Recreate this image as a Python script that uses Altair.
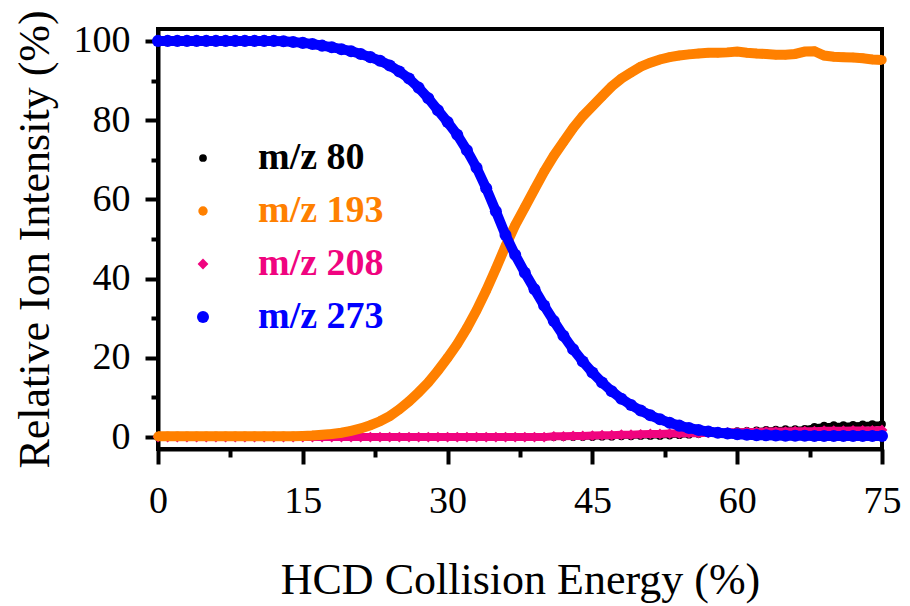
import altair as alt
import pandas as pd

energy = list(range(0, 76))

mz80 = [0.0] * 46 + [0.1, 0.1, 0.2, 0.2, 0.3, 0.3, 0.3, 0.4, 0.5, 0.6,
                     0.8, 1.0, 1.2, 1.3, 1.5, 1.6, 1.7, 1.8, 1.9, 2.0,
                     2.0, 2.1, 2.6, 2.9, 3.0, 3.0, 3.1, 3.2, 3.3, 3.3]

mz193 = [0.2, 0.2, 0.2, 0.2, 0.2, 0.2, 0.2, 0.2, 0.2, 0.2,
         0.2, 0.2, 0.2, 0.2, 0.2, 0.3, 0.4, 0.6, 0.8, 1.1,
         1.6, 2.2, 3.0, 4.0, 5.3, 7.0, 9.0, 11.3, 13.8, 16.8,
         20.0, 23.5, 27.5, 32.0, 37.0, 42.5, 48.2, 53.5, 58.0, 62.5,
         67.0, 71.0, 74.5, 78.0, 81.0, 83.5, 86.0, 88.5, 90.5, 92.0,
         93.5, 94.5, 95.3, 95.9, 96.3, 96.6, 96.8, 97.0, 97.0, 97.1,
         97.3, 97.0, 96.8, 96.7, 96.5, 96.5, 96.7, 97.3, 97.4, 96.3,
         96.0, 95.9, 95.8, 95.6, 95.3, 95.2]

mz208 = [0.0] * 41 + [0.2, 0.2, 0.3, 0.3, 0.4, 0.5, 0.5, 0.6, 0.6, 0.7,
                      0.8, 0.8, 0.9, 0.9, 1.0, 1.0, 1.1, 1.1, 1.2, 1.2,
                      1.3, 1.3, 1.4, 1.4, 1.4, 1.5, 1.5, 1.5, 1.6, 1.6,
                      1.6, 1.7, 1.7, 1.7, 1.8]

mz273 = [100.0, 100.0, 100.0, 100.0, 100.0, 100.0, 100.0, 100.0, 100.0, 100.0,
         100.0, 100.0, 100.0, 99.9, 99.7, 99.5, 99.2, 98.8, 98.4, 97.9,
         97.4, 96.7, 95.9, 95.0, 93.8, 92.3, 90.5, 88.2, 85.5, 82.5,
         79.5, 76.3, 72.4, 68.0, 62.8, 57.0, 51.0, 46.0, 41.5, 37.3,
         33.2, 29.3, 25.6, 22.2, 19.1, 16.3, 13.8, 11.6, 9.7, 8.1,
         6.7, 5.5, 4.5, 3.6, 2.9, 2.3, 1.8, 1.4, 1.1, 0.9,
         0.7, 0.6, 0.5, 0.45, 0.4, 0.35, 0.35, 0.35, 0.3, 0.3,
         0.3, 0.3, 0.3, 0.3, 0.3, 0.3]

series_names = ["m/z 80", "m/z 193", "m/z 208", "m/z 273"]
series_colors = ["#000000", "#FF8000", "#F0047F", "#0000FF"]
series_shapes = ["circle", "circle", "diamond", "circle"]
series_sizes = [60, 145, 160, 145]
series_line_widths = [5, 10, 8, 10]

x_ticks = [0, 7.5, 15, 22.5, 30, 37.5, 45, 52.5, 60, 67.5, 75]
y_ticks = [0, 10, 20, 30, 40, 50, 60, 70, 80, 90, 100]

# drawing order: m/z 80 at the back, m/z 273 on top
draw = [("m/z 80", mz80), ("m/z 208", mz208), ("m/z 193", mz193), ("m/z 273", mz273)]

FONT = "Liberation Serif"

color_expr = (
    "datum.label == 'm/z 80' ? '#000000' : "
    "datum.label == 'm/z 193' ? '#FF8000' : "
    "datum.label == 'm/z 208' ? '#F0047F' : '#0000FF'"
)

leg = alt.Legend(
    title=None,
    orient="none",
    legendX=26,
    legendY=110,
    labelFont=FONT,
    labelFontSize=38,
    labelFontWeight="bold",
    labelColor=alt.ExprRef(color_expr),
    labelOffset=36,
    rowPadding=15,
    padding=0,
    symbolStrokeWidth=0,
    symbolOpacity=1,
)

x_enc = alt.X(
    "energy:Q",
    scale=alt.Scale(domain=[0, 75], nice=False, zero=False),
    axis=alt.Axis(
        values=x_ticks,
        labelExpr="datum.value % 15 == 0 ? datum.label : ''",
        tickSize={"condition": {"test": "datum.value % 15 == 0", "value": 15}, "value": 8},
        labelPadding=18,
        labelFlush=False,
        title="HCD Collision Energy (%)",
        titlePadding=38,
        titleFontSize=44,
    ),
)
y_enc = alt.Y(
    "intensity:Q",
    scale=alt.Scale(domain=[-3, 103], nice=False, zero=False),
    axis=alt.Axis(
        values=y_ticks,
        labelExpr="datum.value % 20 == 0 ? datum.label : ''",
        tickSize={"condition": {"test": "datum.value % 20 == 0", "value": 13}, "value": 7},
        labelPadding=15,
        labelFlush=False,
        title="Relative Ion Intensity (%)",
        titlePadding=16,
        titleFontSize=44,
    ),
)

layers = []
for name, vals in draw:
    i = series_names.index(name)
    d = pd.DataFrame({"energy": energy, "intensity": vals, "series": [name] * len(energy)})
    base = alt.Chart(d)
    line = base.mark_line(color=series_colors[i], strokeWidth=series_line_widths[i]).encode(
        x=x_enc, y=y_enc
    )
    pts = base.mark_point(filled=True, opacity=1, strokeWidth=0).encode(
        x=x_enc,
        y=y_enc,
        color=alt.Color("series:N", scale=alt.Scale(domain=series_names, range=series_colors), legend=leg),
        shape=alt.Shape("series:N", scale=alt.Scale(domain=series_names, range=series_shapes), legend=leg),
        size=alt.Size("series:N", scale=alt.Scale(domain=series_names, range=series_sizes), legend=leg),
    )
    layers += [line, pts]

chart = alt.layer(*layers).properties(
    width=724,
    height=420,
    background="white",
    autosize=alt.AutoSizeParams(type="none"),
    padding={"left": 150, "top": 21, "right": 20, "bottom": 156},
).configure_view(
    stroke="black",
    strokeWidth=4,
).configure_axis(
    grid=False,
    domainColor="black",
    domainWidth=4,
    tickColor="black",
    tickWidth=4,
    labelFont=FONT,
    labelFontSize=38,
    labelColor="black",
    titleFont=FONT,
    titleFontSize=44,
    titleFontWeight="normal",
    titleColor="black",
)

chart.save("out.html", embed_options={"renderer": "svg", "actions": False})
